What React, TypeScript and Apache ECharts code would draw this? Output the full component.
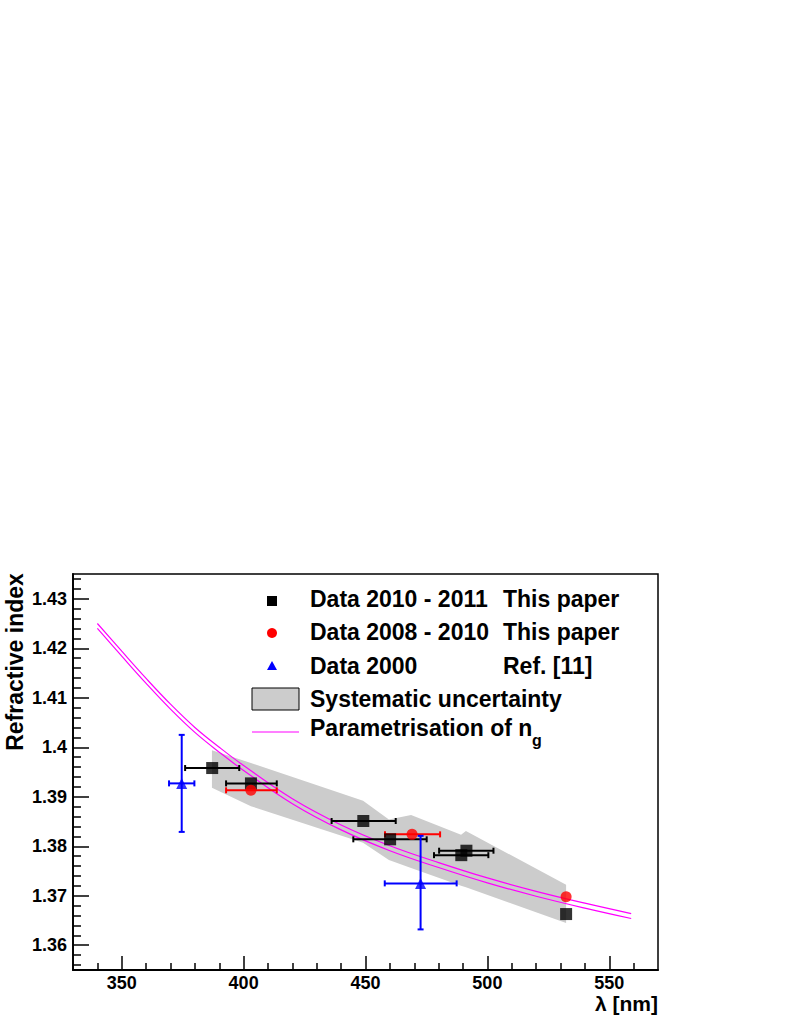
import React, { useEffect, useRef } from "react";
import * as echarts from "echarts";

// ---- axis ticks ----
const xTickLabels = [350, 400, 450, 500, 550];
const yTickLabels = [1.36, 1.37, 1.38, 1.39, 1.4, 1.41, 1.42, 1.43];
const X_MIN = 330;
const X_MAX = 570;
const Y_MIN = 1.355;
const Y_MAX = 1.435;

// ---- Data 2010 - 2011 (this paper) ----
const d2011X = [387.1, 403.0, 449.1, 460.1, 491.4, 489.3, 532.3];
const d2011Y = [1.3958, 1.3927, 1.3851, 1.3814, 1.3791, 1.3782, 1.3663];
const d2011XLo = [376.0, 392.8, 436.1, 445.0, 480.2, 478.1, 532.3];
const d2011XHi = [398.2, 413.6, 462.4, 475.1, 502.5, 500.4, 532.3];

// ---- Data 2008 - 2010 (this paper) ----
const d2008X = [403.0, 469.1, 532.3];
const d2008Y = [1.3913, 1.3824, 1.3698];
const d2008XLo = [392.8, 458.0, 532.3];
const d2008XHi = [413.6, 480.6, 532.3];

// ---- Data 2000 (Ref. [11]) ----
const d2000X = [374.6, 472.6];
const d2000Y = [1.3927, 1.3725];
const d2000XLo = [369.4, 457.9];
const d2000XHi = [379.8, 487.4];
const d2000YLo = [1.3829, 1.3632];
const d2000YHi = [1.4025, 1.3821];

// ---- Systematic uncertainty band ----
const bandX = [387.0, 403.0, 449.0, 459.6, 468.7, 489.2, 491.2, 532.3];
const bandUpper = [1.3994, 1.3968, 1.3892, 1.3854, 1.3863, 1.3823, 1.3831, 1.3722];
const bandLower = [1.3918, 1.3881, 1.3807, 1.3772, 1.3756, 1.372, 1.3717, 1.3645];

// ---- Parametrisation of n_g (two curves) ----
const ngX = [340, 350, 360, 370, 380, 390, 400, 420, 440, 460, 480, 500, 520, 540, 559];
const ngUpper = [1.425, 1.4194, 1.4139, 1.4087, 1.404, 1.4, 1.3963, 1.3896, 1.3843, 1.3801, 1.3767, 1.3736, 1.3709, 1.3685, 1.3664];
const ngLower = [1.424, 1.4184, 1.4129, 1.4077, 1.403, 1.399, 1.3953, 1.3886, 1.3833, 1.3791, 1.3757, 1.3726, 1.3699, 1.3675, 1.3654];

const FONT = "'Liberation Sans', Arial, Helvetica, sans-serif";

function minorTicks(min: number, max: number, step: number, majors: number[]) {
  const out: number[] = [];
  const n = Math.round((max - min) / step);
  for (let i = 0; i <= n; i++) {
    const v = +(min + i * step).toFixed(6);
    if (v <= min || v >= max) continue;
    if (majors.some((m) => Math.abs(m - v) < step / 10)) continue;
    out.push(v);
  }
  return out;
}

function errSeries(name: string, color: string, xs: number[], ys: number[], xlo: number[], xhi: number[], ylo?: number[], yhi?: number[]) {
  const data = xs.map((x, i) => [x, ys[i], xlo[i], xhi[i], ylo ? ylo[i] : ys[i], yhi ? yhi[i] : ys[i]]);
  return {
    type: "custom",
    name,
    xAxisIndex: 0,
    yAxisIndex: 0,
    silent: true,
    z: 3,
    encode: { x: 0, y: 1 },
    data,
    renderItem: (params: any, api: any) => {
      const y = api.value(1);
      const x = api.value(0);
      const xl = api.value(2);
      const xh = api.value(3);
      const yl = api.value(4);
      const yh = api.value(5);
      const style = { stroke: color, lineWidth: 2 };
      const children: any[] = [];
      const cap = 3;
      if (xh - xl > 0.01) {
        const a = api.coord([xl, y]);
        const b = api.coord([xh, y]);
        children.push({ type: "line", shape: { x1: a[0], y1: a[1], x2: b[0], y2: b[1] }, style });
        children.push({ type: "line", shape: { x1: a[0], y1: a[1] - cap, x2: a[0], y2: a[1] + cap }, style });
        children.push({ type: "line", shape: { x1: b[0], y1: b[1] - cap, x2: b[0], y2: b[1] + cap }, style });
      }
      if (yh - yl > 0.00001) {
        const a = api.coord([x, yl]);
        const b = api.coord([x, yh]);
        children.push({ type: "line", shape: { x1: a[0], y1: a[1], x2: b[0], y2: b[1] }, style });
        children.push({ type: "line", shape: { x1: a[0] - cap, y1: a[1], x2: a[0] + cap, y2: a[1] }, style });
        children.push({ type: "line", shape: { x1: b[0] - cap, y1: b[1], x2: b[0] + cap, y2: b[1] }, style });
      }
      return { type: "group", children };
    },
  };
}

export default function App() {
  const ref = useRef<HTMLDivElement>(null);

  useEffect(() => {
    if (!ref.current) return;
    const chart = echarts.init(ref.current, undefined, { renderer: "svg" });

    const xMinor = minorTicks(X_MIN, X_MAX, 10, xTickLabels);
    const yMinor = minorTicks(1.354, Y_MAX, 0.002, yTickLabels).filter((v) => v > Y_MIN);

    const axisLineStyle = { color: "#000", width: 1.8 };
    const tickStyle = { color: "#000", width: 1.5 };
    const labelStyle = { color: "#000", fontSize: 18, fontWeight: "bold" as const, fontFamily: FONT };

    const legendText = (text: string, x: number, y: number) => ({
      type: "text",
      x,
      y,
      style: { text, fill: "#000", font: `bold 23px ${FONT}`, verticalAlign: "middle" },
    });

    const option: any = {
      animation: false,
      backgroundColor: "#fff",
      grid: {
        left: 73,
        top: 574,
        width: 585,
        height: 396,
        show: true,
        borderColor: "#000",
        borderWidth: 1.5,
        backgroundColor: "transparent",
        containLabel: false,
      },
      xAxis: [
        {
          type: "value",
          min: X_MIN,
          max: X_MAX,
          position: "bottom",
          axisLine: { show: true, onZero: false, lineStyle: axisLineStyle },
          axisTick: { show: true, inside: true, length: 14, customValues: xTickLabels, lineStyle: tickStyle },
          axisLabel: { ...labelStyle, customValues: xTickLabels, margin: 4 },
          splitLine: { show: false },
        },
        {
          type: "value",
          min: X_MIN,
          max: X_MAX,
          position: "bottom",
          axisLine: { show: false },
          axisTick: { show: true, inside: true, length: 7, customValues: xMinor, lineStyle: tickStyle },
          axisLabel: { show: false },
          splitLine: { show: false },
        },
      ],
      yAxis: [
        {
          type: "value",
          min: Y_MIN,
          max: Y_MAX,
          position: "left",
          axisLine: { show: true, onZero: false, lineStyle: axisLineStyle },
          axisTick: { show: true, inside: true, length: 16, customValues: yTickLabels, lineStyle: tickStyle },
          axisLabel: {
            ...labelStyle,
            customValues: yTickLabels,
            margin: 6,
            formatter: (v: number) => String(parseFloat(v.toFixed(3))),
          },
          splitLine: { show: false },
        },
        {
          type: "value",
          min: Y_MIN,
          max: Y_MAX,
          position: "left",
          axisLine: { show: false },
          axisTick: { show: true, inside: true, length: 8, customValues: yMinor, lineStyle: tickStyle },
          axisLabel: { show: false },
          splitLine: { show: false },
        },
      ],
      series: [
        {
          type: "custom",
          name: "Systematic uncertainty",
          silent: true,
          z: 1,
          encode: { x: 0, y: 1 },
          data: [[bandX[0], bandUpper[0]]],
          renderItem: (params: any, api: any) => {
            const pts: number[][] = [];
            bandX.forEach((x, i) => pts.push(api.coord([x, bandUpper[i]])));
            for (let i = bandX.length - 1; i >= 0; i--) pts.push(api.coord([bandX[i], bandLower[i]]));
            return { type: "polygon", shape: { points: pts }, style: { fill: "#cccccc" } };
          },
        },
        {
          type: "line",
          name: "ng upper",
          data: ngX.map((x, i) => [x, ngUpper[i]]),
          smooth: 0.4,
          showSymbol: false,
          symbol: "none",
          z: 2,
          lineStyle: { color: "#ff00ff", width: 1.2 },
        },
        {
          type: "line",
          name: "ng lower",
          data: ngX.map((x, i) => [x, ngLower[i]]),
          smooth: 0.4,
          showSymbol: false,
          symbol: "none",
          z: 2,
          lineStyle: { color: "#ff00ff", width: 1.2 },
        },
        errSeries("err2011", "#000000", d2011X, d2011Y, d2011XLo, d2011XHi),
        errSeries("err2008", "#ff0000", d2008X, d2008Y, d2008XLo, d2008XHi),
        errSeries("err2000", "#0000ff", d2000X, d2000Y, d2000XLo, d2000XHi, d2000YLo, d2000YHi),
        {
          type: "scatter",
          name: "Data 2010 - 2011",
          symbol: "rect",
          symbolSize: 12,
          z: 5,
          itemStyle: { color: "#000000" },
          data: d2011X.map((x, i) => [x, d2011Y[i]]),
        },
        {
          type: "scatter",
          name: "Data 2008 - 2010",
          symbol: "circle",
          symbolSize: 11,
          z: 5,
          itemStyle: { color: "#ff0000" },
          data: d2008X.map((x, i) => [x, d2008Y[i]]),
        },
        {
          type: "scatter",
          name: "Data 2000",
          symbol: "triangle",
          symbolSize: 11,
          z: 5,
          itemStyle: { color: "#0000ff" },
          data: d2000X.map((x, i) => [x, d2000Y[i]]),
        },
      ],
      graphic: [
        // legend markers
        { type: "rect", shape: { x: 267, y: 596, width: 10, height: 10 }, style: { fill: "#000" } },
        { type: "circle", shape: { cx: 272, cy: 633, r: 5 }, style: { fill: "#ff0000" } },
        { type: "polygon", shape: { points: [[272, 661], [277, 670], [267, 670]] }, style: { fill: "#0000ff" } },
        { type: "rect", shape: { x: 252, y: 688, width: 47, height: 22 }, style: { fill: "#cccccc", stroke: "#000", lineWidth: 1 } },
        { type: "line", shape: { x1: 252, y1: 732, x2: 299, y2: 732 }, style: { stroke: "#ff00ff", lineWidth: 1.2 } },
        // legend texts
        legendText("Data 2010 - 2011", 310, 599),
        legendText("This paper", 503, 599),
        legendText("Data 2008 - 2010", 310, 632),
        legendText("This paper", 503, 632),
        legendText("Data 2000", 310, 666),
        legendText("Ref. [11]", 503, 666),
        legendText("Systematic uncertainty", 310, 699),
        legendText("Parametrisation of n", 310, 728),
        {
          type: "text",
          x: 532,
          y: 740,
          style: { text: "g", fill: "#000", font: `bold 16px ${FONT}`, verticalAlign: "middle" },
        },
        // axis titles
        {
          type: "text",
          x: 15,
          y: 662,
          rotation: Math.PI / 2,
          style: { text: "Refractive index", fill: "#000", font: `bold 23px ${FONT}`, align: "center", verticalAlign: "middle" },
        },
        {
          type: "text",
          x: 658,
          y: 1003,
          style: { text: "λ [nm]", fill: "#000", font: `bold 21px ${FONT}`, align: "right", verticalAlign: "middle" },
        },
      ],
    };

    chart.setOption(option);
    return () => {
      chart.dispose();
    };
  }, []);

  return (
    <div
      ref={ref}
      style={{ position: "absolute", left: 0, top: 0, width: 790, height: 1022, background: "#fff" }}
    />
  );
}
